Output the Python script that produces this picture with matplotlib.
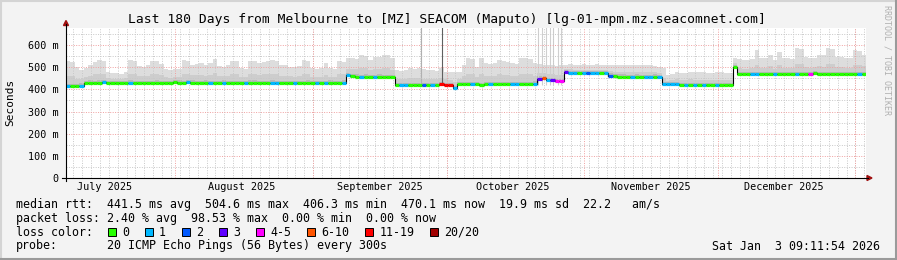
import numpy as np
import matplotlib
matplotlib.use('Agg')
import matplotlib.pyplot as plt
import matplotlib.dates as mdates
from datetime import datetime
from matplotlib.patches import Rectangle, Polygon
from matplotlib.lines import Line2D

W, H = 897, 260

# time range of the graph (last 180 days)
start = datetime(2025, 7, 7, 9, 11, 54)
ndays = 180

# median rtt per day (ms)
median = [416, 414, 415, 417,
          430, 431, 430, 431, 432, 430,
          430, 429, 430, 430, 431, 430, 429, 430, 430, 430,
          431, 430, 430, 430, 432, 431, 430, 432, 431, 430,
          430, 431, 430, 430, 430, 431, 430, 429, 430, 430,
          430, 431, 431, 430, 430, 430, 431, 428, 430, 430,
          429, 428, 430, 430, 431, 430, 429, 430, 430, 431,
          430, 430, 431,
          463, 459, 458, 457, 458, 457, 457, 458, 457, 457, 456,
          420, 419, 418, 420, 421, 420, 420, 421, 420, 421,
          422, 421, 420,
          407,
          423, 424, 424, 423, 422, 421, 422, 424, 424, 425, 424, 424, 425, 424, 423, 424, 425, 426,
          449, 451, 441, 443, 437, 438,
          479, 475, 473, 472, 472, 474, 472, 472, 473, 472,
          462, 459, 458, 458, 457, 457, 458, 457, 456, 457, 458, 457,
          423, 423, 423, 422, 421, 420, 421, 420, 421, 419, 420, 421, 418, 420, 420, 421,
          502,
          470, 469, 469, 469, 468, 469, 470, 469, 469, 468, 469, 470, 469, 469, 469,
          470, 470, 473, 470, 469, 469, 470, 469, 469, 470, 469, 469, 469, 470]

# lost pings (of 20) per day
loss = [1, 0, 0, 1,
        0, 0, 0, 0, 1, 0,
        0, 0, 0, 0, 1, 0, 0, 0, 0, 0,
        0, 0, 0, 0, 0, 0, 0, 1, 0, 0,
        0, 0, 1, 0, 0, 1, 0, 0, 0, 0,
        1, 0, 0, 0, 0, 0, 1, 1, 0, 0,
        0, 1, 0, 0, 0, 0, 1, 0, 1, 0,
        0, 0, 1,
        1, 0, 0, 1, 0, 0, 1, 0, 0, 0, 0,
        0, 1, 1, 0, 0, 0, 2, 0, 1, 0,
        15, 14, 12,
        1,
        0, 0, 0, 1, 0, 0, 0, 1, 0, 0, 0, 0, 1, 1, 0, 0, 0, 1,
        3, 8, 1, 3, 5, 4,
        3, 1, 1, 0, 1, 2, 1, 1, 0, 1,
        2, 0, 0, 0, 0, 1, 0, 0, 1, 1, 0, 1,
        1, 1, 1, 1, 0, 1, 0, 1, 0, 1, 0, 0, 1, 0, 0, 0,
        0,
        0, 0, 0, 1, 1, 0, 0, 0, 1, 0, 0, 0, 0, 1, 0,
        0, 4, 0, 0, 0, 0, 0, 0, 0, 0, 0, 0, 1, 0]

# top of the smoke (max rtt) per day (ms)
smoke_top = [527, 525, 500, 487, 495, 510, 525, 532, 528, 480,
             472, 475, 470, 478, 532, 528, 505, 502, 508, 527,
             528, 515, 490, 487, 492, 490, 532, 530, 512, 515,
             517, 510, 520, 535, 505, 502, 508, 527, 528, 495,
             492, 530, 528, 517, 525, 527, 532, 530, 510, 508,
             502, 502, 505, 532, 530, 495, 492, 495, 517, 495,
             492, 528, 525, 540, 540, 538, 555, 552, 532, 547,
             547, 555, 553, 540, 487, 485, 488, 495, 492, 495,
             490, 487, 487, 485, 495, 480, 480, 478, 480, 510,
             540, 538, 502, 540, 517, 515, 517, 532, 530, 525,
             517, 515, 540, 540, 538, 517, 515, 510, 512, 508,
             505, 510, 512, 515, 510, 512, 515, 510, 512, 514,
             510, 512, 510, 508, 512, 510, 508, 510, 512, 510,
             508, 510, 505, 500, 495, 465, 470, 480, 472, 472,
             480, 480, 478, 480, 472, 472, 480, 480, 472, 472,
             540, 538, 532, 532, 535, 577, 540, 540, 555, 532,
             570, 540, 540, 538, 585, 580, 547, 540, 540, 555,
             553, 585, 580, 547, 547, 540, 540, 577, 575, 555]

# single outlier pings reaching the top of the graph (day offset, shade)
spike_days = [79.8, 84.5, 106.2, 107.0, 108.1, 108.8, 109.6, 110.7, 111.4]
spike_shade = ['#b0b0b0', '#606060', '#cfcfcf', '#cfcfcf', '#cfcfcf',
               '#cfcfcf', '#cfcfcf', '#cfcfcf', '#cfcfcf']

loss_labels = ['0', '1', '2', '3', '4-5', '6-10', '11-19', '20/20']
loss_limits = [0, 1, 2, 3, 5, 10, 19, 20]
loss_colors = ['#26ff00', '#00b8ff', '#0059ff', '#5e00ff', '#ff00ff',
               '#ff5500', '#ff0000', '#a10000']

stats_rtt = ['441.5 ms avg', '504.6 ms max', '406.3 ms min', '470.1 ms now', '19.9 ms sd', '22.2   am/s']
stats_loss = ['2.40 % avg', '98.53 % max', '0.00 % min', '0.00 % now']
title = 'Last 180 Days from Melbourne to [MZ] SEACOM (Maputo) [lg-01-mpm.mz.seacomnet.com]'
probe = '20 ICMP Echo Pings (56 Bytes) every 300s'
stamp = 'Sat Jan  3 09:11:54 2026'

plt.rcParams['font.family'] = 'DejaVu Sans Mono'


def fx(x):
    return x / W


def fy(y):
    return 1 - y / H


fig = plt.figure(figsize=(W / 100, H / 100), dpi=100, facecolor='#f3f3f3')
ax = fig.add_axes([fx(66), fy(178), 800 / W, 150 / H])
ax.set_facecolor('white')

x0 = mdates.date2num(start)
xs = x0 + np.arange(ndays + 1)
med = np.array(median, dtype=float)
top = np.array(smoke_top, dtype=float)

# smoke layers
lo = med - 8
ax.fill_between(xs, np.append(lo, lo[-1]), np.append(top, top[-1]),
                step='post', color='#dddddd', lw=0, zorder=1)
mid_top = med + 0.4 * (top - med)
ax.fill_between(xs, np.append(med - 5, med[-1] - 5), np.append(mid_top, mid_top[-1]),
                step='post', color='#cdcdcd', lw=0, zorder=1.1)
ax.fill_between(xs, np.append(med - 3, med[-1] - 3), np.append(med + 10, med[-1] + 10),
                step='post', color='#b8b8b8', lw=0, zorder=1.2)
for d, c in zip(spike_days, spike_shade):
    ax.vlines(x0 + d, 420, 700, color=c, lw=0.8, zorder=1.3)

# grid
ymax = 677
minor_days = mdates.date2num(datetime(2025, 7, 9)) + np.arange(0, 181, 2)
for v in minor_days:
    ax.axvline(v, color='#c8c8c8', lw=0.7, ls=(0, (1, 1.5)), zorder=2)
for v in range(50, 700, 100):
    ax.axhline(v, color='#c8c8c8', lw=0.7, ls=(0, (1, 1.5)), zorder=2)
month_starts = [datetime(2025, m, 1) for m in range(8, 13)] + [datetime(2026, 1, 1)]
for m in month_starts:
    ax.axvline(mdates.date2num(m), color='#f0a0a0', lw=0.7, ls=(0, (1, 1.5)), zorder=2.1)
for v in range(100, 700, 100):
    ax.axhline(v, color='#f0a0a0', lw=0.7, ls=(0, (1, 1.5)), zorder=2.1)

# median line coloured by loss
ax.step(xs, np.append(med, med[-1]), where='post', color='black', lw=0.8, zorder=3)
cols = []
for n in loss:
    k = 0
    while loss_limits[k] < n:
        k += 1
    cols.append(loss_colors[k])
ax.hlines(med, xs[:-1], xs[1:], colors=cols, lw=2.3, zorder=4)

ax.set_xlim(x0, x0 + ndays)
ax.set_ylim(0, ymax)
for s in ax.spines.values():
    s.set_visible(False)

ax.set_yticks(range(0, 700, 100))
ax.set_yticklabels(['0'] + ['%d m' % v for v in range(100, 700, 100)])
label_days = [datetime(2025, m, 16) for m in range(7, 13)]
ax.set_xticks([mdates.date2num(d) for d in label_days])
ax.set_xticklabels([d.strftime('%B %Y') for d in label_days])
ax.tick_params(axis='y', length=0, pad=5.5, labelsize=7.3)
ax.tick_params(axis='x', length=0, pad=3, labelsize=7.3)

# axes with arrows
fig.add_artist(Line2D([fx(66), fx(66)], [fy(181), fy(24)], color='black', lw=0.8))
fig.add_artist(Line2D([fx(62), fx(868)], [fy(178), fy(178)], color='black', lw=0.8))
fig.add_artist(Polygon([[fx(63.5), fy(25.5)], [fx(68.5), fy(25.5)], [fx(66), fy(20.5)]],
                       closed=True, color='#a01010'))
fig.add_artist(Polygon([[fx(867), fy(175.5)], [fx(867), fy(180.5)], [fx(872), fy(178)]],
                       closed=True, color='#a01010'))

# frame
fig.add_artist(Line2D([0, 1], [fy(0.5), fy(0.5)], color='#d4d4d4', lw=1.5))
fig.add_artist(Line2D([fx(0.5), fx(0.5)], [0, 1], color='#d4d4d4', lw=1.5))
fig.add_artist(Line2D([0, 1], [fy(259), fy(259)], color='#9a9a9a', lw=1.5))
fig.add_artist(Line2D([fx(896), fx(896)], [0, 1], color='#9a9a9a', lw=1.5))

fig.text(fx(447), fy(19), title, ha='center', va='center', fontsize=9.4)
fig.text(fx(10), fy(102), 'Seconds', rotation=90, ha='center', va='center', fontsize=8)
fig.text(fx(887), fy(5), 'RRDTOOL / TOBI OETIKER', rotation=270, ha='center', va='top',
         fontsize=6, color='#b0b0b0')

fs = 8.4
fig.text(fx(16), fy(204.3), 'median rtt:  ' + '  '.join(stats_rtt), va='center', fontsize=fs)
fig.text(fx(16), fy(218.3), 'packet loss: ' + '  '.join(stats_loss), va='center', fontsize=fs)
fig.text(fx(16), fy(232.3), 'loss color:', va='center', fontsize=fs)
fig.text(fx(16), fy(246), 'probe:', va='center', fontsize=fs)
fig.text(fx(16 + 13 * 7.03), fy(246), probe, va='center', fontsize=fs)
fig.text(fx(880), fy(246), stamp, ha='right', va='center', fontsize=fs)

bx = 108
for lab, c in zip(loss_labels, loss_colors):
    fig.add_artist(Rectangle((fx(bx), fy(236)), 8 / W, 8 / H, facecolor=c,
                             edgecolor='black', lw=0.7, transform=fig.transFigure))
    fig.text(fx(bx + 14), fy(232.3), lab, va='center', fontsize=fs)
    bx += 14 + len(lab) * 7.03 + 16

fig.savefig('out.png', dpi=100, facecolor=fig.get_facecolor())
